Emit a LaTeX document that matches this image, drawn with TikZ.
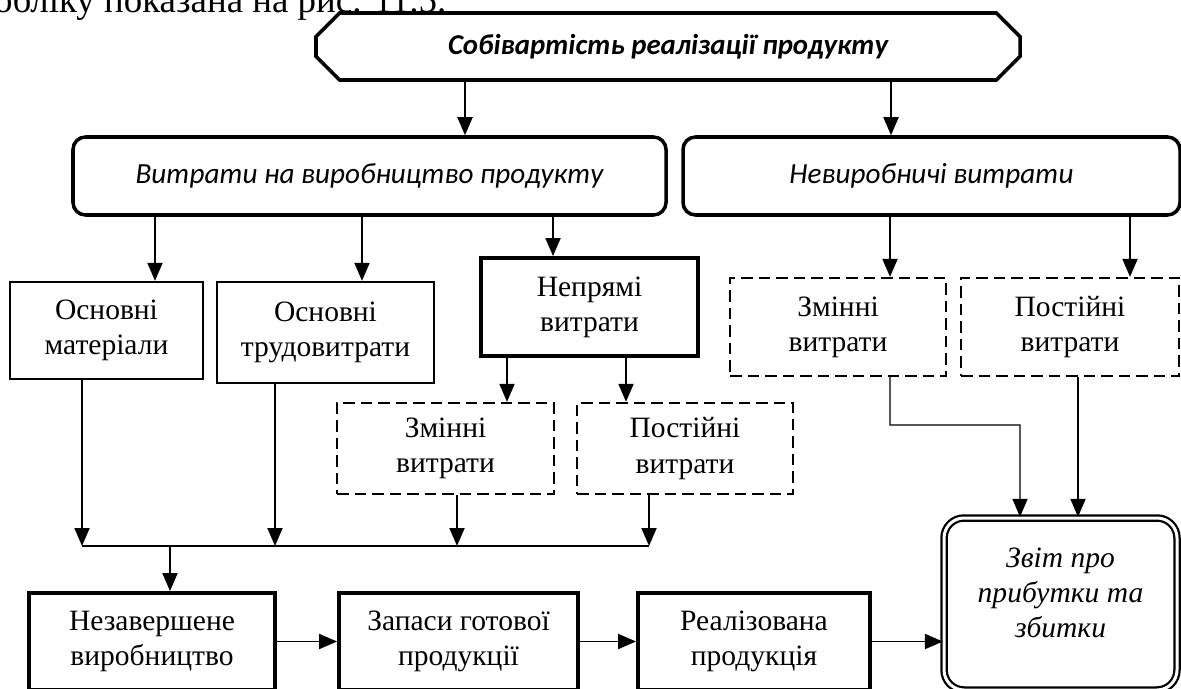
\documentclass[tikz,border=0pt]{standalone}
\usepackage{fontspec}
\setmainfont{Liberation Serif}
\newfontfamily\calibri{Carlito}
\usetikzlibrary{arrows.meta,shapes.misc}

\begin{document}
\begin{tikzpicture}[
    costbox/.style={chamfered rectangle, chamfered rectangle xsep=0.4cm, draw, line width=2pt, minimum width=14.08cm, minimum height=1.34cm, font=\calibri\fontsize{16.4}{19}\selectfont\bfseries\itshape},
    group/.style={draw, rounded corners=0.25cm, line width=2pt, minimum height=1.56cm, font=\calibri\fontsize{16.6}{20}\selectfont\itshape},
    cell/.style={draw, line width=1.3pt, align=center, font=\fontsize{16.8}{20}\selectfont},
    heavy/.style={cell, line width=2.2pt},
    dashcell/.style={cell, line width=1.3pt, dash pattern=on 0.23cm off 0.12cm},
    final/.style={draw, rounded corners=0.4cm, double, double distance=0.06cm, line width=0.045cm},
    note/.style={font=\fontsize{21}{24}\selectfont},
    arrow/.style={-{Triangle[length=0.36cm,width=0.3cm]}, line width=1.1pt},
    feed/.style={-{Triangle[length=0.36cm,width=0.3cm]}, line width=0.8pt}
]
\useasboundingbox (0,0) rectangle (23.62,-13.78);

\node[note, anchor=base east] (caption) at (9.05,-0.26) {обліку показана на рис. 11.5.};

\node[costbox] (cost) at (13.36,-0.93) {Собівартість реалізації продукту};
\node[group, minimum width=11.86cm] (prod) at (7.39,-3.52) {Витрати на виробництво продукту};
\node[group, minimum width=9.94cm] (nonprod) at (18.63,-3.52) {Невиробничі витрати};

\node[cell, minimum width=3.86cm, minimum height=1.94cm] (mat) at (2.13,-6.61) {Основні\\матеріали};
\node[cell, minimum width=4.34cm, minimum height=2.02cm] (lab) at (6.51,-6.65) {Основні\\трудовитрати};
\node[heavy, minimum width=4.34cm, minimum height=1.96cm] (indir) at (11.79,-6.14) {Непрямі\\витрати};
\node[dashcell, minimum width=4.32cm, minimum height=1.96cm] (varN) at (16.76,-6.54) {Змінні\\витрати};
\node[dashcell, minimum width=4.36cm, minimum height=1.96cm] (fixN) at (21.40,-6.54) {Постійні\\витрати};
\node[dashcell, minimum width=4.34cm, minimum height=1.82cm] (varI) at (8.91,-8.97) {Змінні\\витрати};
\node[dashcell, minimum width=4.32cm, minimum height=1.82cm] (fixI) at (13.70,-8.97) {Постійні\\витрати};

\node[heavy, minimum width=4.92cm, minimum height=1.94cm] (wip) at (3.04,-12.83) {Незавершене\\виробництво};
\node[heavy, minimum width=4.78cm, minimum height=1.94cm] (stock) at (9.17,-12.83) {Запаси готової\\продукції};
\node[heavy, minimum width=4.64cm, minimum height=1.94cm] (sold) at (15.08,-12.83) {Реалізована\\продукція};
\node[final, minimum width=4.66cm, minimum height=3.44cm] (report) at (21.21,-12.08) {};
\node[align=center, font=\fontsize{16.8}{20}\selectfont\itshape] (reporttext) at (21.21,-11.86) {Звіт про\\прибутки та\\збитки};

\coordinate (busL) at (1.64,-10.92);
\coordinate (busR) at (12.98,-10.92);
\coordinate (bend) at (20.40,-8.50);

\draw[arrow] ([xshift=1.91cm]prod.north |- cost.south) -- ([xshift=1.91cm]prod.north);
\draw[arrow] ([xshift=-0.81cm]nonprod.north |- cost.south) -- ([xshift=-0.81cm]nonprod.north);
\draw[arrow] ([xshift=0.97cm]mat.north |- prod.south) -- ([xshift=0.97cm]mat.north);
\draw[arrow] ([xshift=0.73cm]lab.north |- prod.south) -- ([xshift=0.73cm]lab.north);
\draw[arrow] ([xshift=-0.73cm]indir.north |- prod.south) -- ([xshift=-0.73cm]indir.north);
\draw[arrow] ([xshift=1.04cm]varN.north |- nonprod.south) -- ([xshift=1.04cm]varN.north);
\draw[arrow] ([xshift=1.20cm]fixN.north |- nonprod.south) -- ([xshift=1.20cm]fixN.north);
\draw[arrow] ([xshift=1.23cm]varI.north |- indir.south) -- ([xshift=1.23cm]varI.north);
\draw[arrow] ([xshift=-1.18cm]fixI.north |- indir.south) -- ([xshift=-1.18cm]fixI.north);

% to the common line
\draw[arrow] ([xshift=-0.49cm]mat.south) -- ([xshift=-0.49cm]mat.south |- busL);
\draw[arrow] ([xshift=-1.01cm]lab.south) -- ([xshift=-1.01cm]lab.south |- busL);
\draw[arrow] ([xshift=0.23cm]varI.south) -- ([xshift=0.23cm]varI.south |- busL);
\draw[arrow] ([xshift=-0.72cm]fixI.south) -- ([xshift=-0.72cm]fixI.south |- busR);
\draw[line width=1.1pt] (busL) -- (busR);
\draw[arrow] ([xshift=0.36cm]wip.north |- busL) -- ([xshift=0.36cm]wip.north);

\draw[arrow] (wip.east) -- (stock.west);
\draw[arrow] (stock.east) -- (sold.west);
\draw[arrow] (sold.east) -- (sold.east -| report.west);

\draw[feed] ([xshift=1.04cm]varN.south) |- (bend) -- ([xshift=-0.81cm]report.north);
\draw[arrow] ([xshift=0.16cm]fixN.south) -- ([xshift=0.16cm]fixN.south |- report.north);
\end{tikzpicture}
\end{document}
